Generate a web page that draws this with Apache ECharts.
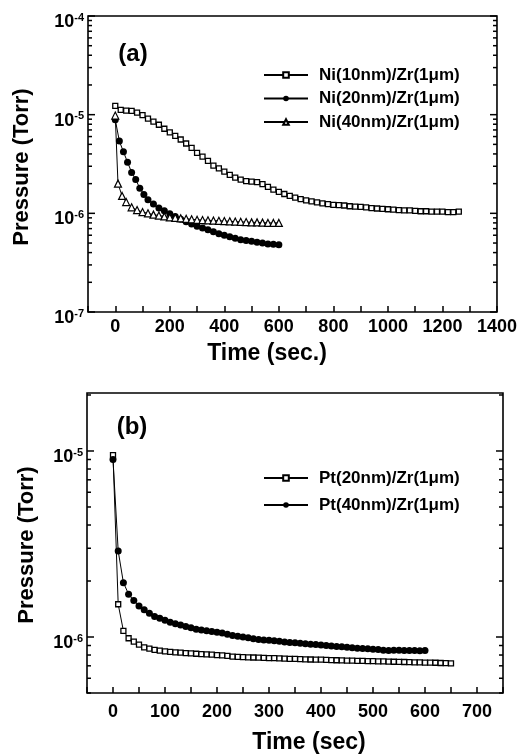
<!DOCTYPE html>
<html>
<head>
<meta charset="utf-8">
<script src="https://cdn.jsdelivr.net/npm/echarts@6/dist/echarts.min.js"></script>
<style>
  html, body { margin: 0; padding: 0; background: #fff; }
  #main { width: 520px; height: 756px; }
</style>
</head>
<body>
<div id="main"></div>
<script>
var FONT = '"Liberation Sans", Arial, Helvetica, sans-serif';

// ---- panel (a): Ni / Zr, pressure in Torr vs time in s
var ni10Time = [0, 20, 40, 60, 80, 100, 120, 140, 160, 180, 200, 220, 240, 260, 280, 300,
  320, 340, 360, 380, 400, 420, 440, 460, 480, 500, 520, 540, 560, 580, 600, 620, 640, 660,
  680, 700, 720, 740, 760, 780, 800, 820, 840, 860, 880, 900, 920, 940, 960, 980, 1000, 1020,
  1040, 1060, 1080, 1100, 1120, 1140, 1160, 1180, 1200, 1220, 1240, 1260];
var ni10P = [12.3e-6, 11.2e-6, 11.0e-6, 10.9e-6, 10.5e-6, 9.9e-6, 9.1e-6, 8.5e-6, 7.9e-6, 7.2e-6,
  6.6e-6, 6.1e-6, 5.6e-6, 5.1e-6, 4.6e-6, 4.1e-6, 3.75e-6, 3.4e-6, 3.05e-6, 2.85e-6, 2.65e-6,
  2.45e-6, 2.3e-6, 2.2e-6, 2.12e-6, 2.1e-6, 2.07e-6, 1.98e-6, 1.85e-6, 1.74e-6, 1.65e-6, 1.57e-6,
  1.5e-6, 1.44e-6, 1.39e-6, 1.35e-6, 1.32e-6, 1.29e-6, 1.26e-6, 1.24e-6, 1.22e-6, 1.21e-6, 1.2e-6,
  1.18e-6, 1.17e-6, 1.16e-6, 1.15e-6, 1.13e-6, 1.12e-6, 1.11e-6, 1.10e-6, 1.09e-6, 1.08e-6,
  1.07e-6, 1.07e-6, 1.06e-6, 1.05e-6, 1.05e-6, 1.04e-6, 1.04e-6, 1.04e-6, 1.03e-6, 1.03e-6, 1.04e-6];

var ni20Time = [0, 15, 30, 45, 60, 75, 90, 105, 120, 140, 160, 180, 200, 220, 240, 260, 280, 300,
  320, 340, 360, 380, 400, 420, 440, 460, 480, 500, 520, 540, 560, 580, 600];
var ni20P = [8.9e-6, 5.4e-6, 4.2e-6, 3.3e-6, 2.6e-6, 2.2e-6, 1.8e-6, 1.55e-6, 1.37e-6, 1.24e-6,
  1.13e-6, 1.06e-6, 0.99e-6, 0.93e-6, 0.87e-6, 0.82e-6, 0.78e-6, 0.74e-6, 0.71e-6, 0.68e-6,
  0.65e-6, 0.62e-6, 0.60e-6, 0.58e-6, 0.56e-6, 0.54e-6, 0.53e-6, 0.52e-6, 0.51e-6, 0.50e-6,
  0.49e-6, 0.485e-6, 0.48e-6];

var ni40Time = [0, 10, 25, 40, 60, 80, 100, 120, 140, 160, 180, 200, 220, 240, 260, 280, 300,
  320, 340, 360, 380, 400, 420, 440, 460, 480, 500, 520, 540, 560, 580, 600];
var ni40P = [9.8e-6, 2.0e-6, 1.5e-6, 1.3e-6, 1.15e-6, 1.08e-6, 1.03e-6, 1.0e-6, 0.97e-6, 0.95e-6,
  0.93e-6, 0.91e-6, 0.9e-6, 0.89e-6, 0.88e-6, 0.87e-6, 0.86e-6, 0.855e-6, 0.85e-6, 0.845e-6,
  0.84e-6, 0.835e-6, 0.83e-6, 0.825e-6, 0.82e-6, 0.815e-6, 0.81e-6, 0.81e-6, 0.805e-6, 0.80e-6,
  0.80e-6, 0.80e-6];

// ---- panel (b): Pt / Zr
var pt20Time = [0, 10, 20, 30, 40, 50, 60, 70, 80, 90, 100, 110, 120, 130, 140, 150, 160, 170,
  180, 190, 200, 210, 220, 230, 240, 250, 260, 270, 280, 290, 300, 310, 320, 330, 340, 350, 360,
  370, 380, 390, 400, 410, 420, 430, 440, 450, 460, 470, 480, 490, 500, 510, 520, 530, 540, 550,
  560, 570, 580, 590, 600, 610, 620, 630, 640, 650];
var pt20P = [9.5e-6, 1.5e-6, 1.08e-6, 0.985e-6, 0.944e-6, 0.91e-6, 0.88e-6, 0.865e-6, 0.853e-6,
  0.844e-6, 0.838e-6, 0.832e-6, 0.827e-6, 0.824e-6, 0.82e-6, 0.816e-6, 0.813e-6, 0.81e-6,
  0.807e-6, 0.804e-6, 0.80e-6, 0.797e-6, 0.792e-6, 0.785e-6, 0.782e-6, 0.78e-6, 0.778e-6,
  0.776e-6, 0.774e-6, 0.772e-6, 0.77e-6, 0.769e-6, 0.767e-6, 0.765e-6, 0.763e-6, 0.762e-6,
  0.76e-6, 0.759e-6, 0.757e-6, 0.756e-6, 0.755e-6, 0.753e-6, 0.751e-6, 0.75e-6, 0.749e-6,
  0.747e-6, 0.746e-6, 0.745e-6, 0.744e-6, 0.742e-6, 0.741e-6, 0.74e-6, 0.739e-6, 0.737e-6,
  0.736e-6, 0.735e-6, 0.734e-6, 0.733e-6, 0.731e-6, 0.73e-6, 0.729e-6, 0.728e-6, 0.727e-6,
  0.725e-6, 0.724e-6, 0.722e-6];

var pt40Time = [0, 10, 20, 30, 40, 50, 60, 70, 80, 90, 100, 110, 120, 130, 140, 150, 160, 170,
  180, 190, 200, 210, 220, 230, 240, 250, 260, 270, 280, 290, 300, 310, 320, 330, 340, 350, 360,
  370, 380, 390, 400, 410, 420, 430, 440, 450, 460, 470, 480, 490, 500, 510, 520, 530, 540, 550,
  560, 570, 580, 590, 600];
var pt40P = [9.0e-6, 2.9e-6, 1.96e-6, 1.70e-6, 1.57e-6, 1.47e-6, 1.40e-6, 1.34e-6, 1.29e-6,
  1.26e-6, 1.23e-6, 1.20e-6, 1.18e-6, 1.16e-6, 1.14e-6, 1.12e-6, 1.10e-6, 1.09e-6, 1.08e-6,
  1.07e-6, 1.06e-6, 1.05e-6, 1.035e-6, 1.02e-6, 1.01e-6, 1.0e-6, 0.99e-6, 0.98e-6, 0.97e-6,
  0.965e-6, 0.96e-6, 0.955e-6, 0.95e-6, 0.94e-6, 0.935e-6, 0.93e-6, 0.925e-6, 0.92e-6, 0.915e-6,
  0.91e-6, 0.905e-6, 0.90e-6, 0.895e-6, 0.89e-6, 0.885e-6, 0.88e-6, 0.875e-6, 0.87e-6, 0.868e-6,
  0.865e-6, 0.86e-6, 0.857e-6, 0.85e-6, 0.847e-6, 0.85e-6, 0.848e-6, 0.846e-6, 0.845e-6,
  0.845e-6, 0.844e-6, 0.845e-6];

// y axes run on log10(pressure); decade ticks and labels
var decadesA = [-7, -6, -5, -4];
var decadesB = [-6, -5];

var legendA = ['Ni(10nm)/Zr(1μm)', 'Ni(20nm)/Zr(1μm)', 'Ni(40nm)/Zr(1μm)'];
var legendB = ['Pt(20nm)/Zr(1μm)', 'Pt(40nm)/Zr(1μm)'];

var yRangeA = [-7, -4];
var yRangeB = [Math.log10(5e-7), Math.log10(2.05e-5)];

function toLog(ts, ps) {
  return ts.map(function(t, i) { return [t, Math.log10(ps[i])]; });
}

// tick rows [x, log value, length]: decades long, 2..9 x 10^n short
function logTickRows(min, max) {
  var out = [];
  for (var n = Math.floor(min); n <= Math.ceil(max); n++) {
    for (var k = 1; k <= 9; k++) {
      var v = n + Math.log10(k);
      if (v >= min - 1e-9 && v <= max + 1e-9) out.push([0, v, k === 1 ? 7 : 4]);
    }
  }
  return out;
}

// ticks on both vertical sides of the box, pointing inward
function tickSeries(grid) {
  var r = grid === 0 ? yRangeA : yRangeB;
  return {
    type: 'custom', xAxisIndex: grid, yAxisIndex: grid, silent: true, clip: false, z: 5,
    data: logTickRows(r[0], r[1]),
    renderItem: function(params, api) {
      var cs = params.coordSys;
      var y = api.coord([0, api.value(1)])[1];
      var len = api.value(2);
      var st = { stroke: '#000', lineWidth: 1.5 };
      return {
        type: 'group',
        children: [
          { type: 'line', shape: { x1: cs.x, y1: y, x2: cs.x + len, y2: y }, style: st },
          { type: 'line', shape: { x1: cs.x + cs.width, y1: y, x2: cs.x + cs.width - len, y2: y }, style: st }
        ]
      };
    }
  };
}

function yAxisFor(grid, range, decades) {
  return {
    type: 'value', gridIndex: grid, min: range[0], max: range[1], position: 'left',
    splitLine: { show: false },
    axisLine: { show: false, onZero: false },
    axisTick: { show: false },
    axisLabel: {
      customValues: decades, margin: 4, padding: [12, 0, 0, 0],
      formatter: function(v) { return '{b|10}{s|' + v + '}'; },
      rich: {
        b: { fontSize: 18, fontWeight: 'bold', fontFamily: FONT, color: '#000', lineHeight: 20 },
        s: { fontSize: 11, fontWeight: 'bold', fontFamily: FONT, color: '#000', lineHeight: 12, verticalAlign: 'top' }
      }
    }
  };
}

function xAxisFor(grid, min, max, step, labelStep, margin) {
  return {
    type: 'value', gridIndex: grid, min: min, max: max, interval: step,
    splitLine: { show: false },
    axisLine: { show: false, onZero: false },
    axisTick: { inside: true, length: 6, lineStyle: { color: '#000', width: 1.5 } },
    axisLabel: {
      interval: 0, margin: margin, color: '#000', fontSize: 18, fontWeight: 'bold', fontFamily: FONT,
      formatter: function(v) { return (v >= 0 && v % labelStep === 0) ? String(v) : ''; }
    }
  };
}

var lineBlack = { color: '#000', width: 1 };

var chart = echarts.init(document.getElementById('main'));

var option = {
  animation: false,
  backgroundColor: '#fff',
  grid: [
    { left: 88, top: 16, width: 412, height: 296, show: true, borderColor: '#000', borderWidth: 1.6 },
    { left: 87, top: 393, width: 416, height: 300, show: true, borderColor: '#000', borderWidth: 1.6 }
  ],
  xAxis: [
    xAxisFor(0, -100, 1400, 100, 200, 6),
    xAxisFor(1, -50, 750, 50, 100, 10)
  ],
  yAxis: [
    yAxisFor(0, yRangeA, decadesA),
    yAxisFor(1, yRangeB, decadesB)
  ],
  legend: [
    {
      data: legendA, orient: 'vertical', left: 263, top: 66.5, padding: 0,
      itemWidth: 44, itemHeight: 7, itemGap: 6.5,
      textStyle: { color: '#000', fontSize: 17, fontWeight: 'bold', fontFamily: FONT, padding: [0, 0, 0, 6] }
    },
    {
      data: legendB, orient: 'vertical', left: 263, top: 469.5, padding: 0,
      itemWidth: 44, itemHeight: 7, itemGap: 10,
      textStyle: { color: '#000', fontSize: 17, fontWeight: 'bold', fontFamily: FONT, padding: [0, 0, 0, 6] }
    }
  ],
  graphic: [
    { type: 'text', x: 133, y: 54, style: { text: '(a)', fill: '#000', fontSize: 24, fontWeight: 'bold', fontFamily: FONT, textAlign: 'center', textVerticalAlign: 'middle' } },
    { type: 'text', x: 132, y: 427, style: { text: '(b)', fill: '#000', fontSize: 24, fontWeight: 'bold', fontFamily: FONT, textAlign: 'center', textVerticalAlign: 'middle' } },
    { type: 'text', x: 267, y: 354, style: { text: 'Time (sec.)', fill: '#000', fontSize: 23, fontWeight: 'bold', fontFamily: FONT, textAlign: 'center', textVerticalAlign: 'middle' } },
    { type: 'text', x: 309, y: 743, style: { text: 'Time (sec)', fill: '#000', fontSize: 23, fontWeight: 'bold', fontFamily: FONT, textAlign: 'center', textVerticalAlign: 'middle' } },
    { type: 'text', x: 22, y: 167, rotation: Math.PI / 2, style: { text: 'Pressure (Torr)', fill: '#000', fontSize: 22, fontWeight: 'bold', fontFamily: FONT, textAlign: 'center', textVerticalAlign: 'middle' } },
    { type: 'text', x: 27, y: 545, rotation: Math.PI / 2, style: { text: 'Pressure (Torr)', fill: '#000', fontSize: 22, fontWeight: 'bold', fontFamily: FONT, textAlign: 'center', textVerticalAlign: 'middle' } }
  ],
  series: [
    tickSeries(0),
    tickSeries(1),
    {
      name: legendA[0], type: 'line', xAxisIndex: 0, yAxisIndex: 0, data: toLog(ni10Time, ni10P),
      symbol: 'rect', symbolSize: 5, showAllSymbol: true, lineStyle: lineBlack,
      itemStyle: { color: '#fff', borderColor: '#000', borderWidth: 1.3 }
    },
    {
      name: legendA[1], type: 'line', xAxisIndex: 0, yAxisIndex: 0, data: toLog(ni20Time, ni20P),
      symbol: 'circle', symbolSize: 7, showAllSymbol: true, lineStyle: lineBlack,
      itemStyle: { color: '#000', borderColor: '#000', borderWidth: 0 }
    },
    {
      name: legendA[2], type: 'line', xAxisIndex: 0, yAxisIndex: 0, data: toLog(ni40Time, ni40P),
      symbol: 'triangle', symbolSize: 7, showAllSymbol: true, lineStyle: lineBlack,
      itemStyle: { color: '#fff', borderColor: '#000', borderWidth: 1.2 }
    },
    {
      name: legendB[0], type: 'line', xAxisIndex: 1, yAxisIndex: 1, data: toLog(pt20Time, pt20P),
      symbol: 'rect', symbolSize: 5, showAllSymbol: true, lineStyle: lineBlack,
      itemStyle: { color: '#fff', borderColor: '#000', borderWidth: 1.3 }
    },
    {
      name: legendB[1], type: 'line', xAxisIndex: 1, yAxisIndex: 1, data: toLog(pt40Time, pt40P),
      symbol: 'circle', symbolSize: 7, showAllSymbol: true, lineStyle: lineBlack,
      itemStyle: { color: '#000', borderColor: '#000', borderWidth: 0 }
    }
  ]
};

option && chart.setOption(option);
</script>
</body>
</html>
